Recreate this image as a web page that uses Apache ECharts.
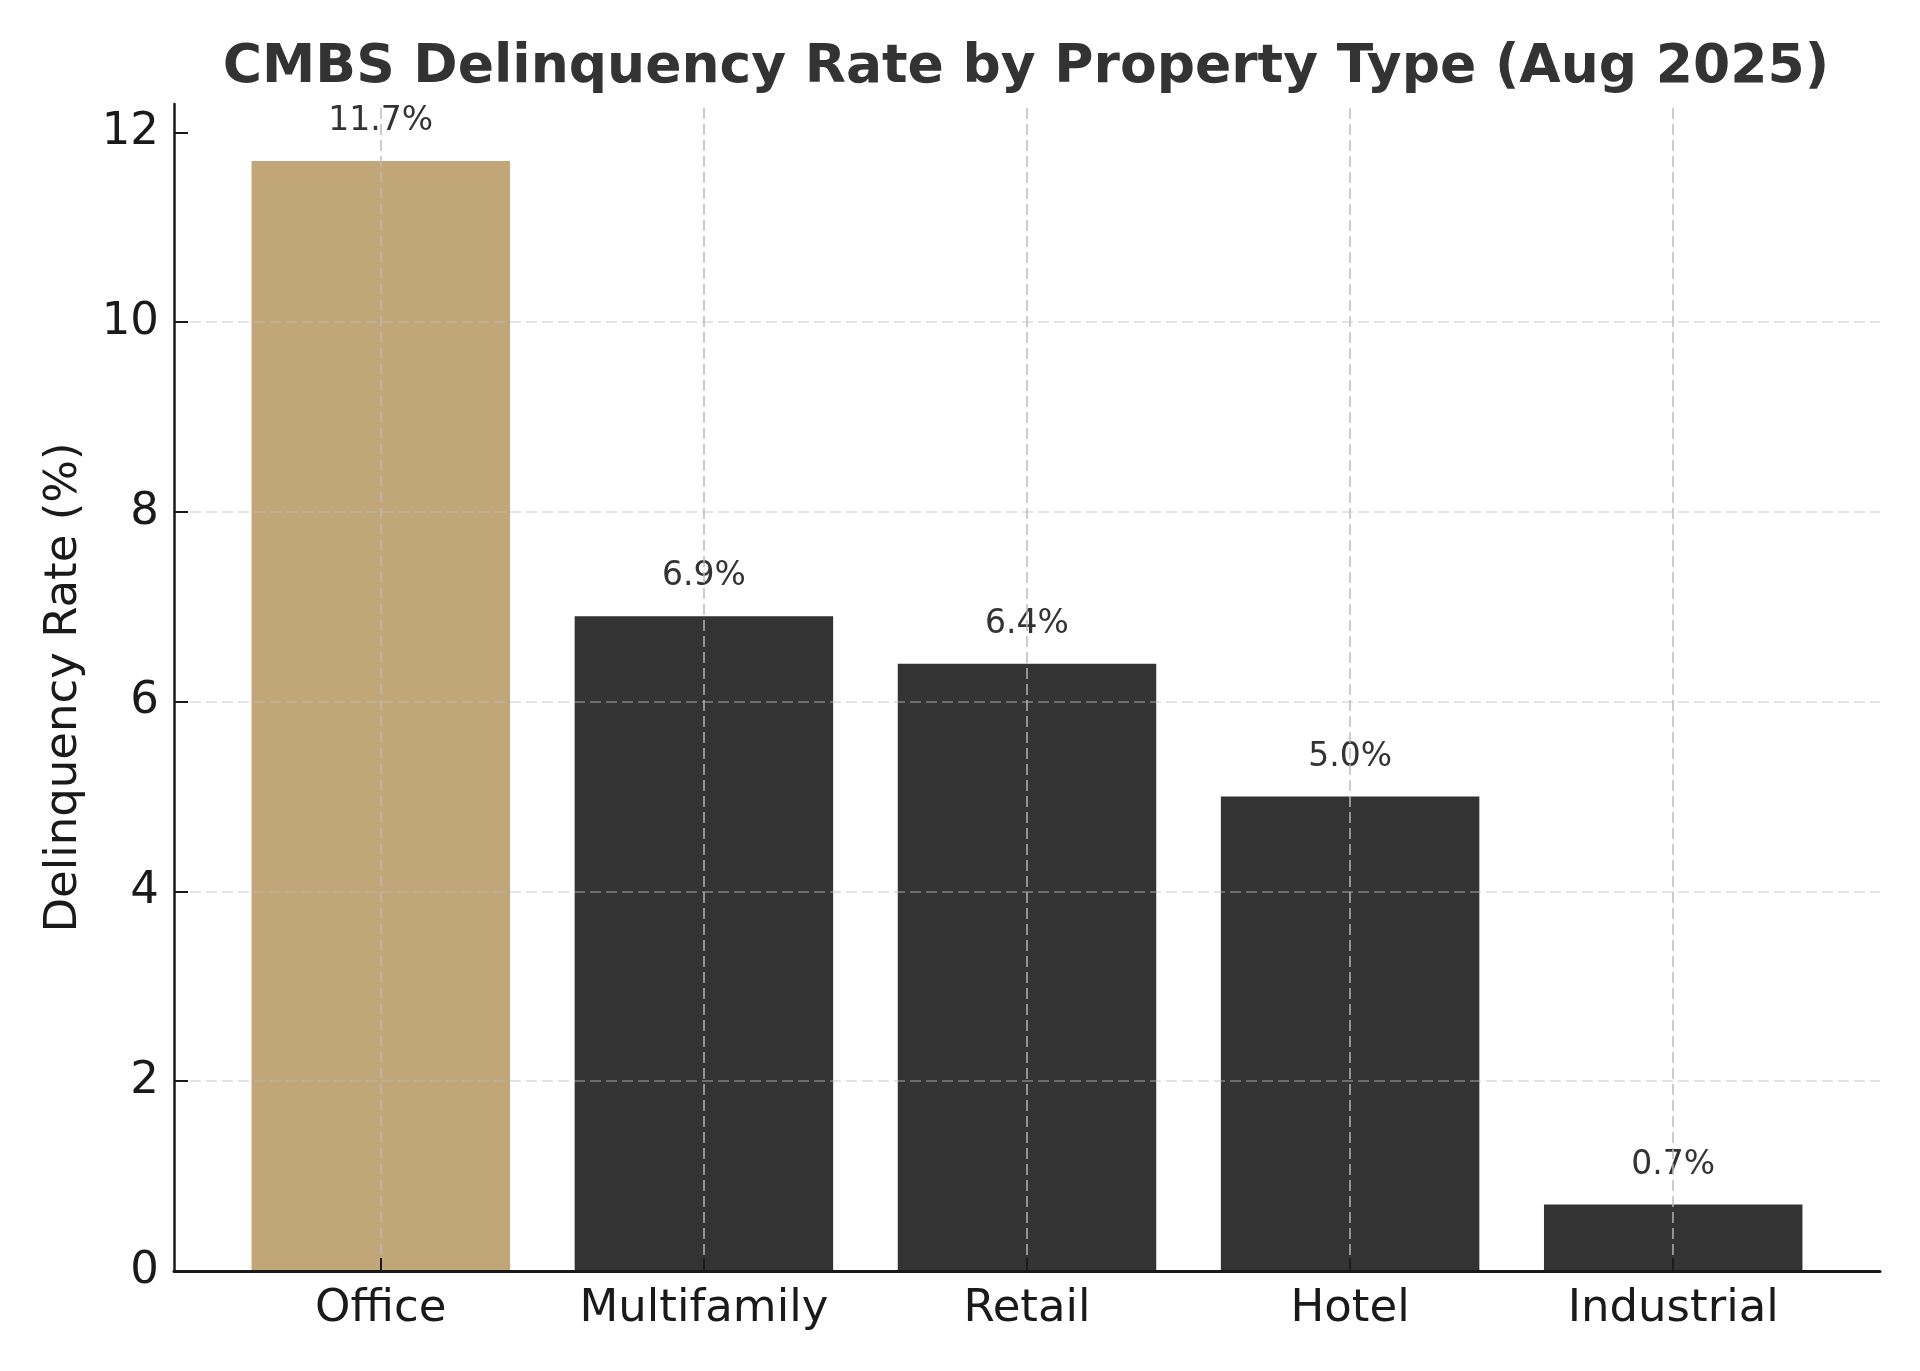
<!DOCTYPE html>
<html>
<head>
<meta charset="utf-8">
<title>CMBS Delinquency Rate by Property Type</title>
<script src="https://cdn.jsdelivr.net/npm/echarts@6/dist/echarts.min.js"></script>
<style>
  html, body { margin: 0; padding: 0; background: #ffffff; }
  #chart { width: 1920px; height: 1371px; }
</style>
</head>
<body>
<div id="chart"></div>
<script>
// data
const categories = ['Office', 'Multifamily', 'Retail', 'Hotel', 'Industrial'];
const rates = [11.7, 6.9, 6.4, 5.0, 0.7];
const highlight = 'Office';
const yTicks = [0, 2, 4, 6, 8, 10, 12];
const yMax = 12.3;

const FONT = 'DejaVu Sans';
const barColor = '#333333';
const highlightColor = '#c0a678';

const idx = categories.map((c, i) => i);

const chart = echarts.init(document.getElementById('chart'));

const option = {
    backgroundColor: '#ffffff',
    animation: false,
    title: {
        text: 'CMBS Delinquency Rate by Property Type (Aug 2025)',
        left: 1026,
        top: 41,
        textAlign: 'center',
        padding: 0,
        textStyle: {
            fontFamily: FONT,
            fontSize: 53.5,
            fontWeight: 'bold',
            color: '#333333'
        }
    },
    grid: {
        left: 174,
        right: 40,
        top: 104,
        bottom: 100
    },
    xAxis: {
        type: 'value',
        min: -0.64,
        max: categories.length - 1 + 0.64,
        z: 6,
        axisLine: {
            show: true,
            onZero: false,
            lineStyle: { color: '#1a1a1a', width: 3 }
        },
        axisTick: {
            show: true,
            inside: true,
            length: 13,
            customValues: idx,
            lineStyle: { color: '#1a1a1a', width: 2 }
        },
        axisLabel: {
            customValues: idx,
            margin: 16,
            fontFamily: FONT,
            fontSize: 45,
            color: '#1a1a1a',
            formatter: function (v) { return categories[v]; }
        },
        splitLine: { show: false }
    },
    yAxis: {
        type: 'value',
        min: 0,
        max: yMax,
        z: 3,
        name: 'Delinquency Rate (%)',
        nameLocation: 'middle',
        nameGap: 87,
        nameTextStyle: {
            fontFamily: FONT,
            fontSize: 45,
            color: '#1a1a1a'
        },
        axisLine: {
            show: true,
            onZero: false,
            lineStyle: { color: '#1a1a1a', width: 2.5 }
        },
        axisTick: {
            show: true,
            inside: true,
            length: 14,
            customValues: yTicks,
            lineStyle: { color: '#1a1a1a', width: 2 }
        },
        axisLabel: {
            customValues: yTicks,
            margin: 15,
            fontFamily: FONT,
            fontSize: 45,
            color: '#1a1a1a'
        },
        splitLine: {
            show: true,
            showMinLine: false,
            showMaxLine: false,
            lineStyle: { color: 'rgba(190,190,190,0.42)', width: 2, type: [11, 5] }
        }
    },
    series: [
        {
            type: 'bar',
            barWidth: '80%',
            data: rates.map((v, i) => ({
                value: [i, v],
                itemStyle: { color: categories[i] === highlight ? highlightColor : barColor }
            })),
            label: {
                show: true,
                position: 'top',
                distance: 23,
                fontFamily: FONT,
                fontSize: 33,
                color: '#333333',
                formatter: function (p) { return p.value[1].toFixed(1) + '%'; }
            },
            markLine: {
                silent: true,
                symbol: 'none',
                label: { show: false },
                z: 4,
                lineStyle: { color: 'rgba(185,185,185,0.72)', width: 2, type: [11, 5] },
                data: idx.map(i => ({ xAxis: i }))
            }
        }
    ]
};

chart.setOption(option);
</script>
</body>
</html>
